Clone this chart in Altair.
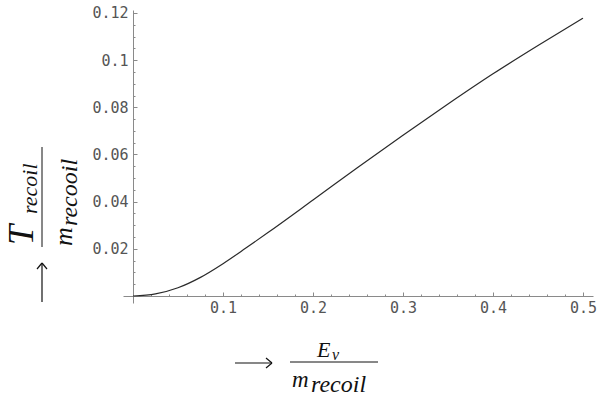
import altair as alt
import pandas as pd

# Curve values
E_over_m = [0, 0.025, 0.05, 0.075, 0.1, 0.125, 0.15, 0.2, 0.25, 0.3, 0.35, 0.4, 0.45, 0.5]
T_over_m = [0, 0.0009, 0.0035, 0.0079, 0.0137, 0.0202, 0.0269, 0.0407, 0.0546, 0.0682, 0.0814, 0.0942, 0.1062, 0.1178]

x_major = [0.1, 0.2, 0.3, 0.4, 0.5]
y_major = [0.02, 0.04, 0.06, 0.08, 0.1, 0.12]
x_minor = [0.02, 0.04, 0.06, 0.08, 0.12, 0.14, 0.16, 0.18, 0.22, 0.24, 0.26, 0.28,
           0.32, 0.34, 0.36, 0.38, 0.42, 0.44, 0.46, 0.48]
y_minor = [0.005, 0.01, 0.015, 0.025, 0.03, 0.035, 0.045, 0.05, 0.055, 0.065, 0.07, 0.075,
           0.085, 0.09, 0.095, 0.105, 0.11, 0.115]

df = pd.DataFrame({"E": E_over_m, "T": T_over_m})
one = pd.DataFrame({"k": [0]})  # single row for annotation marks

W, H = 470, 293
XDOM = [-0.0111, 0.5111]
YDOM = [-0.00297, 0.12127]
AXIS_GRAY = "#8a8a8a"
LABEL_FONT = "DejaVu Sans Mono"
MATH_FONT = "Liberation Serif"

xs = alt.Scale(domain=XDOM, nice=False, zero=False)
ys = alt.Scale(domain=YDOM, nice=False, zero=False)

base = alt.Chart(df)

# Layer 1: the curve, with label-only axes
curve = base.mark_line(color="#2a2a2a", strokeWidth=1.2, interpolate="monotone").encode(
    x=alt.X("E:Q", scale=xs, axis=alt.Axis(
        orient="bottom", offset=-7, values=x_major, format="~g", ticks=False, tickSize=0,
        domain=False, grid=False, title=None, labelFont=LABEL_FONT, labelFontSize=15,
        labelFontWeight="normal", labelColor="#555555", labelPadding=4)),
    y=alt.Y("T:Q", scale=ys, axis=alt.Axis(
        orient="left", offset=-10, values=y_major, format="~g", ticks=False, tickSize=0,
        domain=False, grid=False, title=None, labelFont=LABEL_FONT, labelFontSize=15,
        labelFontWeight="normal", labelColor="#555555", labelPadding=5, labelBaseline="middle")),
)

# Layer 2: axis lines and major ticks
major = base.mark_line(strokeOpacity=0).encode(
    x=alt.X("E:Q", scale=xs, axis=alt.Axis(
        orient="top", offset=-(H - 7), values=x_major, labels=False, ticks=True, tickSize=4,
        tickColor=AXIS_GRAY, domain=True, domainColor=AXIS_GRAY, grid=False, title=None)),
    y=alt.Y("T:Q", scale=ys, axis=alt.Axis(
        orient="right", offset=-(W - 10), values=y_major, labels=False, ticks=True, tickSize=4,
        tickColor=AXIS_GRAY, domain=True, domainColor=AXIS_GRAY, grid=False, title=None)),
)

# Layer 3: minor ticks
minor = base.mark_line(strokeOpacity=0).encode(
    x=alt.X("E:Q", scale=xs, axis=alt.Axis(
        orient="top", offset=-(H - 7), values=x_minor, labels=False, ticks=True, tickSize=2,
        tickColor=AXIS_GRAY, domain=False, grid=False, title=None)),
    y=alt.Y("T:Q", scale=ys, axis=alt.Axis(
        orient="right", offset=-(W - 10), values=y_minor, labels=False, ticks=True, tickSize=2,
        tickColor=AXIS_GRAY, domain=False, grid=False, title=None)),
)

ink = "#111111"

def rule(x1, y1, x2, y2, w=1.2):
    return alt.Chart(one).mark_rule(color=ink, strokeWidth=w).encode(
        x=alt.value(x1), y=alt.value(y1), x2=alt.value(x2), y2=alt.value(y2))

def txt(s, x, y, size, angle=0):
    return alt.Chart(one).mark_text(
        text=s, font=MATH_FONT, fontSize=size, fontStyle="italic", fontWeight="normal",
        align="left", baseline="alphabetic", angle=angle, color=ink
    ).encode(x=alt.value(x), y=alt.value(y))

# X title:  -->  E_nu / m_recoil
x_title = [
    rule(112, 353, 149, 353), rule(149, 353, 143, 348), rule(149, 353, 143, 358),
    rule(167, 352, 255, 352, 1.0),
    txt("E", 194, 347, 22), txt("ν", 209, 350, 16),
    txt("m", 169, 377, 23), txt("recoil", 188, 382, 24),
]

# Y title (rotated):  -->  T_recoil / m_recooil
y_title = [
    rule(-81, 292, -81, 253), rule(-81, 253, -86, 259), rule(-81, 253, -76, 259),
    rule(-81, 137, -81, 237, 1.0),
    txt("T", -90, 235, 36, angle=270), txt("recoil", -86, 204, 22, angle=270),
    txt("m", -51, 236, 26, angle=270), txt("recooil", -46, 216, 24, angle=270),
]

chart = alt.layer(curve, major, minor, *x_title, *y_title).resolve_axis(
    x="independent", y="independent"
).properties(
    width=W, height=H, autosize="none",
    padding={"left": 123, "top": 10, "right": 5, "bottom": 96},
    background="white",
).configure_view(stroke=None)

chart.save("out.html", embed_options={"renderer": "svg", "actions": False})
